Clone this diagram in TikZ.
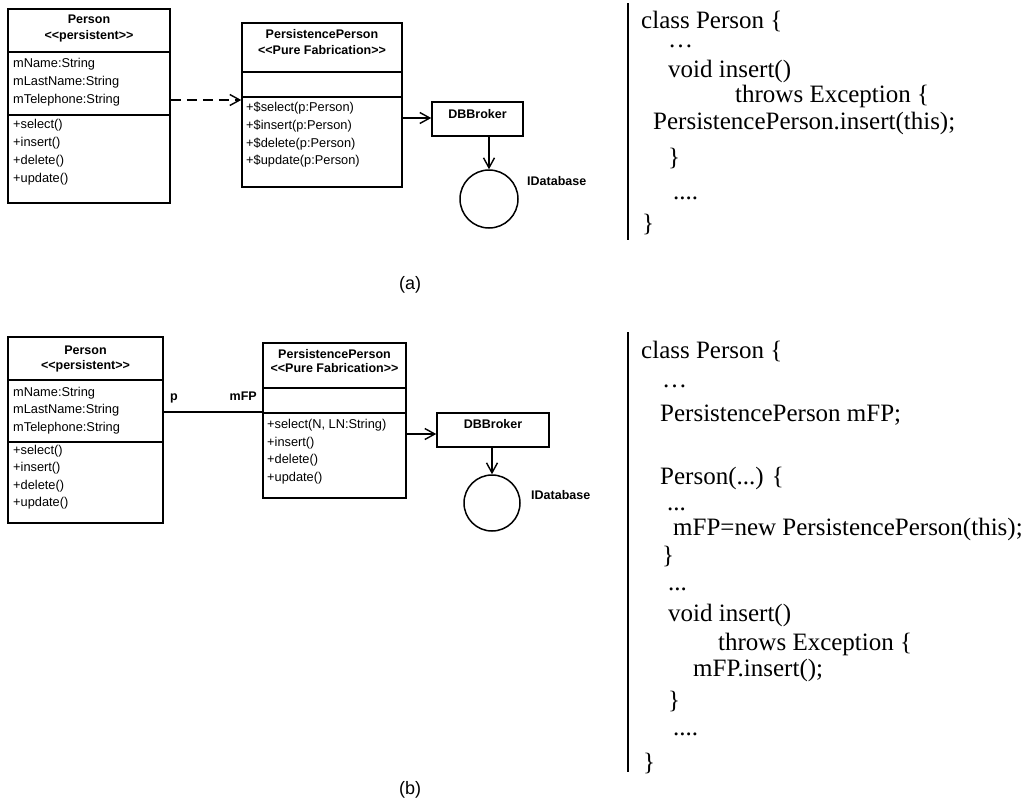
\documentclass[tikz,border=0pt]{standalone}
\usepackage{fontspec}
\setmainfont{Liberation Serif}
\newfontfamily\umlfont{Liberation Sans}
\usetikzlibrary{arrows.meta}

\tikzset{
  classbox/.style={draw, line width=1.5pt, inner sep=0pt},
  divider/.style={line width=1.5pt},
  ttl/.style={font=\umlfont\bfseries\fontsize{12.5}{14}\selectfont, inner sep=0pt, text height=9pt, text depth=2.5pt},
  mbr/.style={font=\umlfont\fontsize{12.8}{14}\selectfont, anchor=west, inner sep=0pt, text height=9pt, text depth=2.5pt},
  assoc/.style={line width=1.4pt},
  openarrow/.style={-{Straight Barb[length=10pt,width=11pt]}},
  codeline/.style={font=\fontsize{25}{28}\selectfont, anchor=base west, inner sep=0pt},
  codedots/.style={codeline, text height=4pt},
  coderule/.style={line width=2pt},
  iface/.style={draw, circle, line width=1.5pt, inner sep=0pt},
  subcaption/.style={font=\umlfont\fontsize{18}{20}\selectfont, inner sep=0pt}
}

\begin{document}
\begin{tikzpicture}[x=1pt, y=-1pt]
\useasboundingbox (0,0) rectangle (1032,803);

% ---------------- (a) static persistence helper ----------------
% Person class
\node[classbox, minimum width=162pt, minimum height=194pt] (pA) at (89,106) {};
\draw[divider] (pA.west |- 0,52) -- (pA.east |- 0,52);
\draw[divider] (pA.west |- 0,115) -- (pA.east |- 0,115);
\node[ttl] (pAn) at (89,20) {Person};
\node[ttl] (pAs) at (89,36) {<{}<persistent>{}>};
\node[mbr] (pAa1) at (13,64) {mName:String};
\node[mbr] (pAa2) at (13,82) {mLastName:String};
\node[mbr] (pAa3) at (13,100) {mTelephone:String};
\node[mbr] (pAm1) at (13,125) {+select()};
\node[mbr] (pAm2) at (13,143) {+insert()};
\node[mbr] (pAm3) at (13,161) {+delete()};
\node[mbr] (pAm4) at (13,179) {+update()};

% PersistencePerson class
\node[classbox, minimum width=160pt, minimum height=164pt] (ppA) at (322,105) {};
\draw[divider] (ppA.west |- 0,72) -- (ppA.east |- 0,72);
\draw[divider] (ppA.west |- 0,97) -- (ppA.east |- 0,97);
\node[ttl] (ppAn) at (322,35) {PersistencePerson};
\node[ttl] (ppAs) at (322,51) {<{}<Pure Fabrication>{}>};
\node[mbr] (ppAm1) at (246,108) {+\$select(p:Person)};
\node[mbr] (ppAm2) at (246,126) {+\$insert(p:Person)};
\node[mbr] (ppAm3) at (246,144) {+\$delete(p:Person)};
\node[mbr] (ppAm4) at (246,161) {+\$update(p:Person)};

% DBBroker and IDatabase
\node[classbox, minimum width=91pt, minimum height=34pt] (dbA) at (477.5,119) {};
\node[ttl] (dbAn) at (477.5,115) {DBBroker};
\node[iface, minimum size=58pt] (cA) at (489,199) {};
\node[ttl, anchor=west] (cAn) at (527,182) {IDatabase};

% connectors
\draw[assoc, dash pattern=on 10pt off 6pt, openarrow] (pA.east |- 0,100) -- (ppA.west |- 0,100);
\draw[assoc, openarrow] (ppA.east |- 0,118) -- (dbA.west |- 0,118);
\draw[assoc, openarrow] (dbA.south -| cA.north) -- (cA.north);

\node[subcaption] (capA) at (410,285) {(a)};

% code listing (a)
\draw[coderule] (628,3) -- (628,240);
\node[codeline] (ca1) at (641,28) {class Person \{};
\node[codedots] (ca2) at (668,47) {…};
\node[codeline] (ca3) at (668,77) {void insert()};
\node[codeline] (ca4) at (735,102) {throws Exception \{};
\node[codeline] (ca5) at (653,129) {PersistencePerson.insert(this);};
\node[codeline] (ca6) at (668,165) {\}};
\node[codedots] (ca7) at (673,199) {....};
\node[codeline] (ca8) at (642,231) {\}};

% ---------------- (b) association to a helper object ----------------
% Person class
\node[classbox, minimum width=155pt, minimum height=186pt] (pB) at (85.5,430) {};
\draw[divider] (pB.west |- 0,380) -- (pB.east |- 0,380);
\draw[divider] (pB.west |- 0,442) -- (pB.east |- 0,442);
\node[ttl] (pBn) at (85.5,351) {Person};
\node[ttl] (pBs) at (85.5,366) {<{}<persistent>{}>};
\node[mbr] (pBa1) at (13,393) {mName:String};
\node[mbr] (pBa2) at (13,410) {mLastName:String};
\node[mbr] (pBa3) at (13,428) {mTelephone:String};
\node[mbr] (pBm1) at (13,451) {+select()};
\node[mbr] (pBm2) at (13,468) {+insert()};
\node[mbr] (pBm3) at (13,486) {+delete()};
\node[mbr] (pBm4) at (13,503) {+update()};

% PersistencePerson class
\node[classbox, minimum width=143pt, minimum height=155pt] (ppB) at (334.5,420.5) {};
\draw[divider] (ppB.west |- 0,388) -- (ppB.east |- 0,388);
\draw[divider] (ppB.west |- 0,413) -- (ppB.east |- 0,413);
\node[ttl] (ppBn) at (334.5,355) {PersistencePerson};
\node[ttl] (ppBs) at (334.5,369) {<{}<Pure Fabrication>{}>};
\node[mbr] (ppBm1) at (267,425) {+select(N, LN:String)};
\node[mbr] (ppBm2) at (267,443) {+insert()};
\node[mbr] (ppBm3) at (267,460) {+delete()};
\node[mbr] (ppBm4) at (267,478) {+update()};

% DBBroker and IDatabase
\node[classbox, minimum width=112pt, minimum height=34pt] (dbB) at (493,430) {};
\node[ttl] (dbBn) at (493,425) {DBBroker};
\node[iface, minimum size=56pt] (cB) at (492,503) {};
\node[ttl, anchor=west] (cBn) at (531,496) {IDatabase};

% connectors
\draw[assoc] (pB.east |- 0,412) -- (ppB.west |- 0,412);
\node[ttl, anchor=west] (roleP) at (170,397) {p};
\node[ttl, anchor=east] (roleF) at (257,397) {mFP};
\draw[assoc, openarrow] (ppB.east |- 0,434) -- (dbB.west |- 0,434);
\draw[assoc, openarrow] (dbB.south -| cB.north) -- (cB.north);

\node[subcaption] (capB) at (410,790) {(b)};

% code listing (b)
\draw[coderule] (628,332) -- (628,772);
\node[codeline] (cb1) at (641,358) {class Person \{};
\node[codedots] (cb2) at (662,387) {…};
\node[codeline] (cb3) at (660,421) {PersistencePerson mFP;};
\node[codeline] (cb4) at (660,484) {Person(...) \{};
\node[codedots] (cb5) at (667,510) {...};
\node[codeline] (cb6) at (673,535) {mFP=new PersistencePerson(this);};
\node[codeline] (cb7) at (662,563) {\}};
\node[codedots] (cb8) at (668,590) {...};
\node[codeline] (cb9) at (668,621) {void insert()};
\node[codeline] (cb10) at (718,650) {throws Exception \{};
\node[codeline] (cb11) at (693,676) {mFP.insert();};
\node[codeline] (cb12) at (668,708) {\}};
\node[codedots] (cb13) at (673,735) {....};
\node[codeline] (cb14) at (643,770) {\}};
\end{tikzpicture}
\end{document}
